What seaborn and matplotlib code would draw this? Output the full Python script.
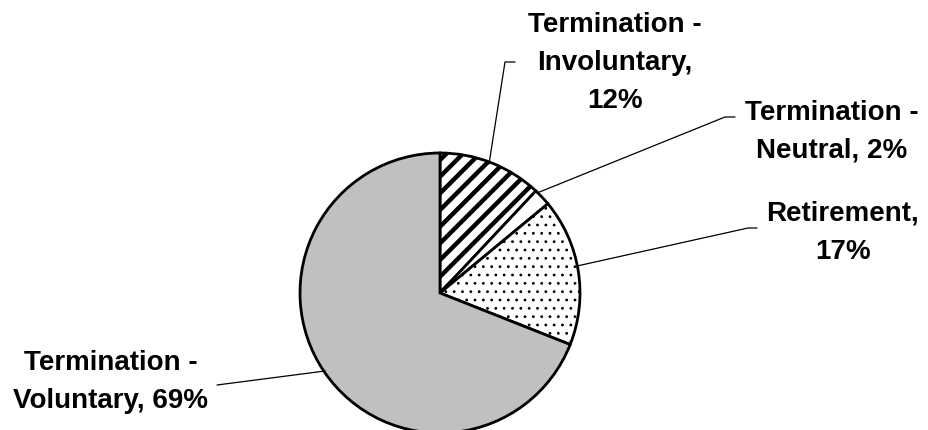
#!/usr/bin/env python3
import matplotlib
matplotlib.use("Agg")
import matplotlib.pyplot as plt
import seaborn as sns

labels = ["Termination -\nInvoluntary,\n12%", "Termination -\nNeutral, 2%",
          "Retirement,\n17%", "Termination -\nVoluntary, 69%"]
shares = [12, 2, 17, 69]
colors = ["white", "white", "white", "#c0c0c0"]
hatches = ["//", "", "..", ""]

sns.set_style("white")
plt.rcParams["font.family"] = ["Liberation Sans", "DejaVu Sans"]
plt.rcParams["hatch.linewidth"] = 3.2

W, H = 929, 430
fig = plt.figure(figsize=(W / 100, H / 100), dpi=100)
ax = fig.add_axes([0, 0, 1, 1])

cx, cy, r = 440, H - 293, 140
wedges, _ = ax.pie(shares, colors=colors, startangle=90, counterclock=False,
                   center=(cx, cy), radius=r, frame=True,
                   wedgeprops=dict(edgecolor="black", linewidth=2))
ax.set_xlim(0, W)
ax.set_ylim(0, H)
ax.set_aspect("equal")
ax.axis("off")
for w, h in zip(wedges, hatches):
    if h:
        w.set_hatch(h)
    if h == ".." and hasattr(w, "set_hatch_linewidth"):
        w.set_hatch_linewidth(0.8)

# label text centre, leader path (pixels, y down)
label_pos = [(615, 63), (832, 132), (843, 233), (111, 382)]
leaders = [
    [(489, 164), (505, 62), (515, 62)],
    [(537, 193), (725, 117), (735, 117)],
    [(577, 266), (748, 228), (757, 228)],
    [(325, 371), (217, 385)],
]
for lab, (tx, ty), path in zip(labels, label_pos, leaders):
    ax.text(tx, H - ty, lab, ha="center", va="center", fontsize=20,
            fontweight="bold", linespacing=1.6, color="black")
    ax.plot([p[0] for p in path], [H - p[1] for p in path], color="black", lw=0.9)

fig.savefig("out.png", dpi=100)
